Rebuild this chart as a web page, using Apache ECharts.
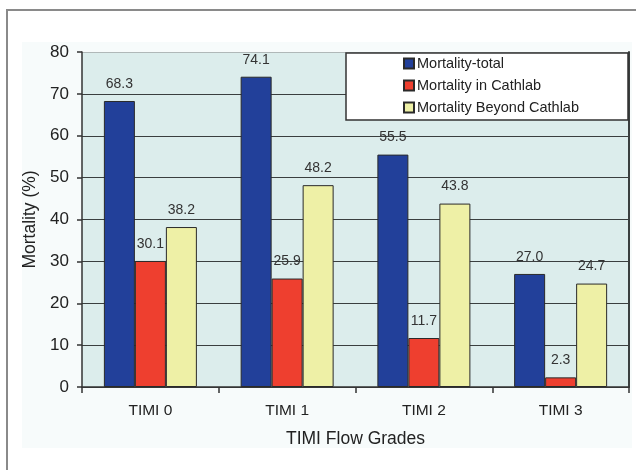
<!DOCTYPE html>
<html>
<head>
<meta charset="utf-8">
<script src="https://cdn.jsdelivr.net/npm/echarts@6/dist/echarts.min.js"></script>
<style>html,body{margin:0;padding:0;background:#fff;}#c{width:636px;height:470px;}</style>
</head>
<body>
<div id="c"></div>
<script>
const categories = ['TIMI 0', 'TIMI 1', 'TIMI 2', 'TIMI 3'];
const seriesNames = ['Mortality-total', 'Mortality in Cathlab', 'Mortality Beyond Cathlab'];
const mortalityTotal = [68.3, 74.1, 55.5, 27.0];
const mortalityCathlab = [30.1, 25.9, 11.7, 2.3];
const mortalityBeyond = [38.2, 48.2, 43.8, 24.7];
const yTicks = [0, 10, 20, 30, 40, 50, 60, 70, 80];

const FONT = '"Liberation Sans", Arial, sans-serif';
const colors = ['#22409a', '#ee3f2f', '#eef0a6'];
const values = [mortalityTotal, mortalityCathlab, mortalityBeyond];

const chart = echarts.init(document.getElementById('c'), null, {renderer: 'canvas'});
const splitColors = yTicks.map((t, i) => i === yTicks.length - 1 ? '#b0b8b8' : '#3a3f3f');

chart.setOption({
  animation: false,
  backgroundColor: '#ffffff',
  textStyle: {fontFamily: FONT},
  graphic: [
    {type: 'rect', z: -100, shape: {x: 7, y: 10, width: 700, height: 520}, style: {fill: '#ffffff', stroke: '#8a8a8a', lineWidth: 2}},
    {type: 'rect', z: -90, shape: {x: 22, y: 42, width: 610, height: 406}, style: {fill: '#f7fbfb', stroke: null}},
    {type: 'rect', z: 50, shape: {x: 346, y: 53, width: 282, height: 67}, style: {fill: '#ffffff', stroke: '#333333', lineWidth: 1.5}}
  ],
  legend: {
    z: 60,
    orient: 'vertical',
    left: 403,
    top: 56,
    padding: [0, 0, 0, 0],
    itemWidth: 10,
    itemHeight: 10,
    itemGap: 7,
    icon: 'rect',
    textStyle: {fontSize: 14.5, color: '#222', fontFamily: FONT, padding: [0, 0, 0, -2]},
    data: seriesNames
  },
  grid: {
    left: 82, top: 52, width: 547, height: 335,
    show: true, backgroundColor: '#dcedec', borderWidth: 0
  },
  xAxis: {
    type: 'category',
    data: categories,
    axisLine: {lineStyle: {color: '#333', width: 1.5}},
    axisTick: {show: true, length: 6, lineStyle: {color: '#333', width: 1.5}},
    axisLabel: {fontSize: 15.5, color: '#222', margin: 16, fontFamily: FONT},
    name: 'TIMI Flow Grades',
    nameLocation: 'middle',
    nameGap: 43,
    nameTextStyle: {fontSize: 17.5, color: '#222', fontFamily: FONT}
  },
  yAxis: [{
    type: 'value',
    min: 0, max: 80, interval: 10,
    axisLine: {show: true, lineStyle: {color: '#333', width: 1.5}},
    axisTick: {show: true, length: 5, lineStyle: {color: '#333', width: 1.5}},
    axisLabel: {fontSize: 17, color: '#222', margin: 13, fontFamily: FONT},
    splitLine: {show: true, lineStyle: {color: splitColors, width: 1.2}},
    name: 'Mortality (%)',
    nameLocation: 'middle',
    nameGap: 43,
    nameTextStyle: {fontSize: 17.5, color: '#222', fontFamily: FONT}
  }, {
    type: 'value',
    position: 'right',
    min: 0, max: 80, interval: 10,
    axisLine: {show: true, lineStyle: {color: '#3a3f3f', width: 2}},
    axisTick: {show: false},
    axisLabel: {show: false},
    splitLine: {show: false}
  }],
  series: seriesNames.map((name, i) => ({
    name: name,
    type: 'bar',
    yAxisIndex: 0,
    data: values[i],
    barWidth: 31,
    barGap: '0%',
    itemStyle: {color: colors[i], borderColor: '#2a2a2a', borderWidth: 1},
    label: {
      show: true,
      position: 'top',
      distance: 10,
      fontSize: 14,
      color: '#333',
      fontFamily: FONT,
      formatter: p => p.value.toFixed(1)
    }
  }))
});
</script>
</body>
</html>
